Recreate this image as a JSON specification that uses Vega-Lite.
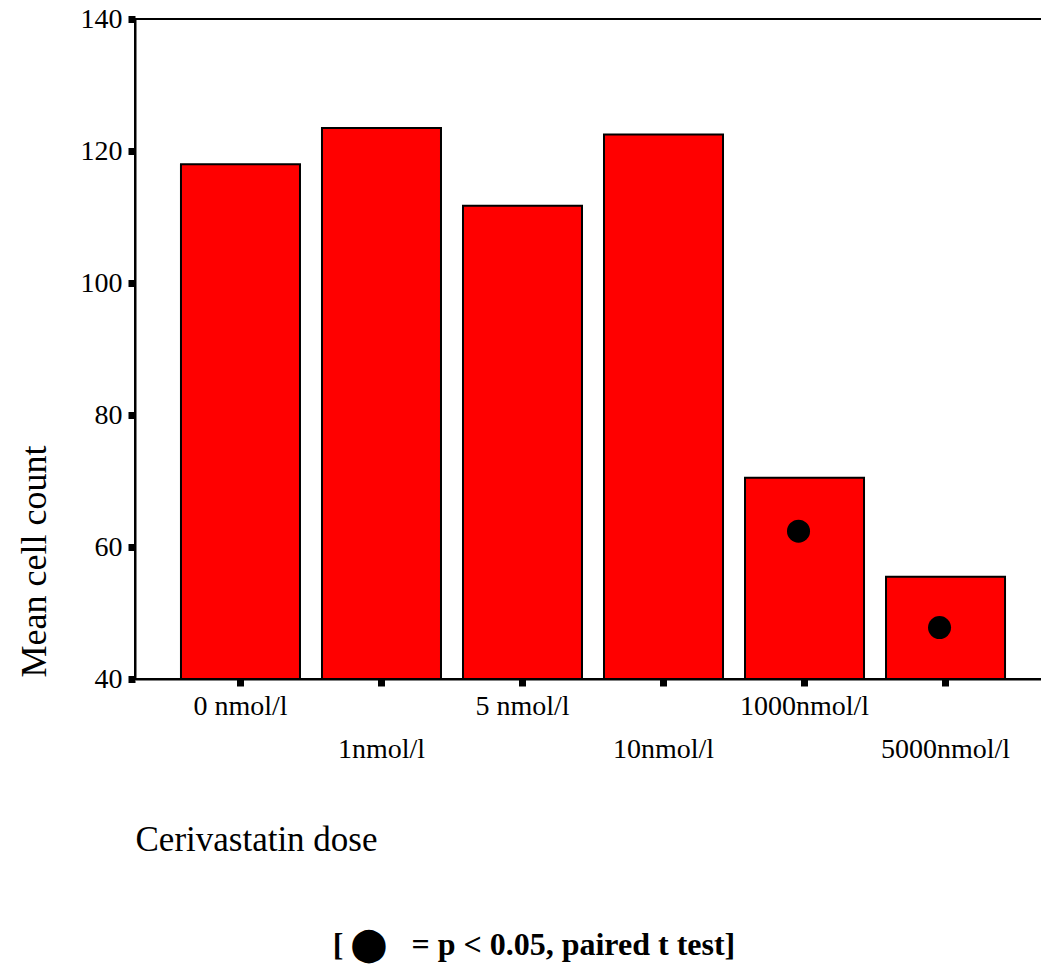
{
  "$schema": "https://vega.github.io/schema/vega-lite/v6.json",
  "width": 916,
  "height": 660,
  "autosize": {"type": "none"},
  "padding": {"left": 135, "top": 19, "right": 0, "bottom": 287},
  "background": "white",
  "config": {
    "view": {"stroke": "black", "strokeWidth": 2},
    "font": "Liberation Serif"
  },
  "title": {
    "text": "[\u00a0⬤\u00a0\u00a0\u00a0=\u00a0p < 0.05, paired t test]",
    "orient": "bottom",
    "anchor": "middle",
    "frame": "group",
    "offset": 73,
    "dx": -59,
    "font": "Liberation Serif",
    "fontSize": 32,
    "fontWeight": "bold",
    "color": "black"
  },
  "data": {
    "values": [
      {"dose": "0 nmol/l", "count": 118.0, "marker": null},
      {"dose": "1nmol/l", "count": 123.5, "marker": null},
      {"dose": "5 nmol/l", "count": 111.7, "marker": null},
      {"dose": "10nmol/l", "count": 122.5, "marker": null},
      {"dose": "1000nmol/l", "count": 70.5, "marker": 62.4},
      {"dose": "5000nmol/l", "count": 55.5, "marker": 47.8}
    ]
  },
  "encoding": {
    "x": {
      "field": "dose",
      "type": "nominal",
      "sort": null,
      "scale": {"paddingInner": 0.156, "paddingOuter": 0.326},
      "axis": {
        "title": "Cerivastatin dose",
        "titleFont": "Liberation Serif",
        "titleFontSize": 35,
        "titleFontWeight": "normal",
        "titleColor": "black",
        "titleAlign": "left",
        "titleBaseline": "alphabetic",
        "titleX": 0,
        "titleY": 171,
        "labelAngle": 0,
        "labelFont": "Liberation Serif",
        "labelFontSize": 28,
        "labelColor": "black",
        "labelBaseline": "alphabetic",
        "labelPadding": {
          "condition": {"test": "indexof(['1nmol/l', '10nmol/l', '5000nmol/l'], datum.value) >= 0", "value": 71},
          "value": 28
        },
        "tickSize": 7,
        "tickWidth": 7,
        "tickColor": "black",
        "domainColor": "black",
        "domainWidth": 2
      }
    }
  },
  "layer": [
    {
      "mark": {"type": "bar", "fill": "#ff0000", "stroke": "black", "strokeWidth": 2},
      "encoding": {
        "y": {
          "field": "count",
          "type": "quantitative",
          "scale": {"domain": [40, 140], "zero": false, "nice": false},
          "axis": {
            "values": [40, 60, 80, 100, 120, 140],
            "title": "Mean cell count",
            "titleFont": "Liberation Serif",
            "titleFontSize": 36,
            "titleFontWeight": "normal",
            "titleColor": "black",
            "titleAlign": "center",
            "titleBaseline": "alphabetic",
            "titleAngle": -90,
            "titleX": -90,
            "titleY": 542,
            "labelFont": "Liberation Serif",
            "labelFontSize": 28,
            "labelColor": "black",
            "labelPadding": 6,
            "tickSize": 7,
            "tickWidth": 7,
            "tickColor": "black",
            "domainColor": "black",
            "domainWidth": 2,
            "grid": false
          }
        },
        "y2": {"datum": 40}
      }
    },
    {
      "mark": {"type": "point", "shape": "circle", "filled": true, "color": "black", "opacity": 1, "size": 530, "xOffset": -6},
      "transform": [{"filter": "datum.marker != null"}],
      "encoding": {
        "y": {"field": "marker", "type": "quantitative"}
      }
    }
  ]
}
